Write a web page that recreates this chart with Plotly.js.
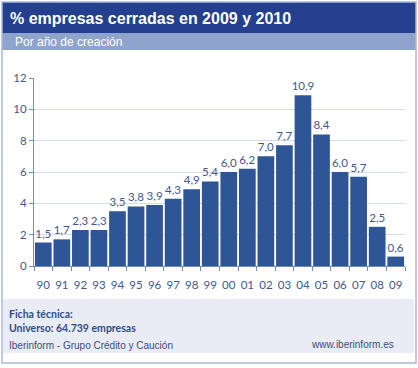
<!DOCTYPE html>
<html><head><meta charset="utf-8">
<script src="https://cdn.plot.ly/plotly-3.0.1.min.js"></script>
<style>html,body{margin:0;padding:0;background:#fff}#c{width:418px;height:368px}</style>
</head><body><div id="c"></div>
<script>
const years = ["90","91","92","93","94","95","96","97","98","99","00","01","02","03","04","05","06","07","08","09"];
const values = [1.5,1.7,2.3,2.3,3.5,3.8,3.9,4.3,4.9,5.4,6.0,6.2,7.0,7.7,10.9,8.4,6.0,5.7,2.5,0.6];
const titleText = "% empresas cerradas en 2009 y 2010";
const subtitleText = "Por año de creación";
const footer1 = "Ficha técnica:";
const footer2 = "Universo: 64.739 empresas";
const footer3 = "Iberinform - Grupo Crédito y Caución";
const footer4 = "www.iberinform.es";

const W=418,H=368;
const px=x=>x/W, py=y=>1-y/H;
const labelFont={family:"Lato, 'Open Sans', sans-serif",size:11.5,color:"#44578c"};

const trace={type:"bar",x:years,y:values,marker:{color:"#2e5596",line:{width:0}},
  texttemplate:"%{y:.1f}",textposition:"outside",cliponaxis:false,constraintext:"none",
  textfont:labelFont,hoverinfo:"none"};

const layout={
  width:W,height:H,margin:{l:0,r:0,t:0,b:0},paper_bgcolor:"#fff",plot_bgcolor:"#fff",
  separators:",.",showlegend:false,bargap:0.1,
  xaxis:{domain:[px(34),px(405)],type:"category",showline:true,linecolor:"#6f8cc0",linewidth:1,
    ticks:"outside",tickson:"boundaries",ticklen:4,tickcolor:"#6f8cc0",tickangle:0,
    tickfont:labelFont,automargin:false,fixedrange:true,ticklabelstandoff:8},
  yaxis:{domain:[py(266),py(78)],range:[0,12],dtick:2,showline:true,linecolor:"#6f8cc0",linewidth:1,
    ticks:"outside",ticklen:4,tickcolor:"#6f8cc0",gridcolor:"#d3dcec",gridwidth:1,zeroline:false,
    tickfont:labelFont,automargin:false,fixedrange:true},
  shapes:[
    {type:"rect",xref:"paper",yref:"paper",x0:px(2),x1:px(416),y0:py(33),y1:py(2),fillcolor:"#233f8d",line:{width:0},layer:"below"},
    {type:"rect",xref:"paper",yref:"paper",x0:px(2),x1:px(416),y0:py(50),y1:py(33),fillcolor:"#8fa4cc",line:{width:0},layer:"below"},
    {type:"rect",xref:"paper",yref:"paper",x0:px(3),x1:px(414),y0:py(353),y1:py(299),fillcolor:"#e9ecf4",line:{width:0},layer:"below"},
    {type:"rect",xref:"paper",yref:"paper",x0:px(2),x1:px(416),y0:py(363),y1:py(2),fillcolor:"rgba(0,0,0,0)",line:{color:"#a7bad8",width:1.5}}
  ],
  annotations:[
    {xref:"paper",yref:"paper",x:px(8),y:py(18),xanchor:"left",yanchor:"middle",showarrow:false,text:"<b>"+titleText+"</b>",
      font:{family:"Liberation Sans, Arial, sans-serif",size:16,color:"#ffffff"}},
    {xref:"paper",yref:"paper",x:px(13),y:py(42),xanchor:"left",yanchor:"middle",showarrow:false,text:subtitleText,
      font:{family:"Liberation Sans, Arial, sans-serif",size:12,color:"#ffffff"}},
    {xref:"paper",yref:"paper",x:px(7),y:py(314),xanchor:"left",yanchor:"middle",showarrow:false,text:"<b>"+footer1+"</b>",
      font:{family:"Lato, sans-serif",size:10.5,color:"#2f4d8c"}},
    {xref:"paper",yref:"paper",x:px(7),y:py(328),xanchor:"left",yanchor:"middle",showarrow:false,text:"<b>"+footer2+"</b>",
      font:{family:"Lato, sans-serif",size:10.5,color:"#2f4d8c"}},
    {xref:"paper",yref:"paper",x:px(7),y:py(345),xanchor:"left",yanchor:"middle",showarrow:false,text:footer3,
      font:{family:"Liberation Sans, Arial, sans-serif",size:10,color:"#3a4c80"}},
    {xref:"paper",yref:"paper",x:px(396),y:py(344),xanchor:"right",yanchor:"middle",showarrow:false,text:footer4,
      font:{family:"Liberation Sans, Arial, sans-serif",size:10,color:"#3a4c80"}}
  ]
};
Plotly.newPlot("c",[trace],layout,{staticPlot:true,displayModeBar:false});
</script></body></html>
